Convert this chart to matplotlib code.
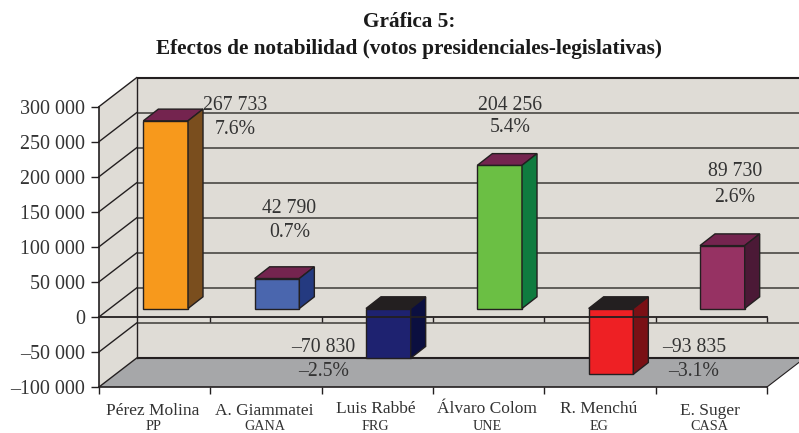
import matplotlib
matplotlib.use('Agg')
import matplotlib.pyplot as plt
from matplotlib.patches import Polygon

plt.rcParams['font.family'] = ['Liberation Serif', 'DejaVu Serif']

# Data
names = ['Pérez Molina', 'A. Giammatei', 'Luis Rabbé', 'Álvaro Colom', 'R. Menchú', 'E. Suger']
parties = ['PP', 'GANA', 'FRG', 'UNE', 'EG', 'CASA']
votes = [267733, 42790, -70830, 204256, -93835, 89730]
shares = ['7.6%', '0.7%', '–2.5%', '5.4%', '–3.1%', '2.6%']
y_ticks = [-100000, -50000, 0, 50000, 100000, 150000, 200000, 250000, 300000]

front_colors = ['#F7991C', '#4A66AE', '#1E2270', '#6BBF44', '#EE2024', '#963263']
side_colors = ['#7A4E1E', '#243A80', '#0B0F40', '#0F7B3F', '#7A1015', '#4B1936']
top_colors = ['#74244F', '#74244F', '#231F20', '#74244F', '#231F20', '#74244F']

W, H = 799, 433
LEFT, RIGHT, TOP, BOTTOM = 99, 767, 106.6, 387
px_x = (RIGHT - LEFT) / 6
px_y = (BOTTOM - TOP) / 400000

INK = '#231F20'
TEXT = '#333333'


def fmt(v):
    s = f'{abs(v):,}'.replace(',', ' ')
    return '–' + s if v < 0 else s


# pixel offsets converted to data units, for the fake depth
def dx(p):
    return p / px_x


def dy(p):
    return p / px_y


def fpos(x, y):
    return x / W, 1 - y / H


fig = plt.figure(figsize=(W / 100, H / 100), dpi=100)
ax = fig.add_axes([LEFT / W, 1 - BOTTOM / H, (RIGHT - LEFT) / W, (BOTTOM - TOP) / H])
ax.set_xlim(-0.5, 5.5)
ax.set_ylim(-100000, 300000)
ax.patch.set_visible(False)

x0, x1 = -0.5, 5.5
y0, y1 = -100000, 300000
bx, by = dx(37.7), dy(29)

# walls and floor
wall = '#DFDCD6'
ax.add_patch(Polygon([(x0, y0), (x0 + bx, y0 + by), (x1 + bx, y0 + by), (x1 + bx, y1 + by), (x0 + bx, y1 + by), (x0, y1)],
                     facecolor=wall, edgecolor='none', clip_on=False, zorder=1))
ax.add_patch(Polygon([(x0, y0), (x1, y0), (x1 + bx, y0 + by), (x0 + bx, y0 + by)],
                     facecolor='#A6A7A9', edgecolor='none', clip_on=False, zorder=1.5))

# grid on back wall and side wall
for t in y_ticks:
    color = INK if t in (-100000, 300000) else '#4A4844'
    lw = 1.5 if t in (-100000, 300000) else 1.2
    ax.plot([x0 + bx, x1 + bx], [t + by, t + by], color=color, lw=lw, clip_on=False, zorder=2, solid_capstyle='butt')
    ax.plot([x0, x0 + bx], [t, t + by], color=INK, lw=1.0, clip_on=False, zorder=2)
ax.plot([x0 + bx, x0 + bx], [y0 + by, y1 + by], color=INK, lw=1.0, clip_on=False, zorder=2)
ax.plot([x1, x1 + bx], [y0, y0 + by], color=INK, lw=0.8, clip_on=False, zorder=2)

# bars: front face through ax.bar, top and side added from the same values
bar_w = 44.7 / px_x
ox, oy = dx(11), dy(8.4)
sx, sy = dx(15), dy(11.7)
for i, v in enumerate(votes):
    ax.bar(i + ox, v, width=bar_w, bottom=oy, color=front_colors[i], edgecolor=INK, linewidth=1.0,
           clip_on=False, zorder=3)
    l = i + ox - bar_w / 2
    r = i + ox + bar_w / 2
    hi = max(v, 0) + oy
    lo = min(v, 0) + oy
    ax.add_patch(Polygon([(l, hi), (r, hi), (r + sx, hi + sy), (l + sx, hi + sy)],
                         facecolor=top_colors[i], edgecolor=INK, linewidth=1.0, clip_on=False, zorder=3))
    ax.add_patch(Polygon([(r, lo), (r + sx, lo + sy), (r + sx, hi + sy), (r, hi)],
                         facecolor=side_colors[i], edgecolor=INK, linewidth=1.0, clip_on=False, zorder=3))

# zero line with its ticks, above the bars
ax.plot([x0, x1], [0, 0], color=INK, lw=1.3, clip_on=False, zorder=4)
ax.vlines([b - 0.5 for b in range(1, 7)], dy(-5), 0, color=INK, lw=1.0, clip_on=False, zorder=4)

# axes
for s in ('top', 'right'):
    ax.spines[s].set_visible(False)
for s in ('left', 'bottom'):
    ax.spines[s].set_color(INK)
    ax.spines[s].set_linewidth(1.2)
    ax.spines[s].set_zorder(4)
ax.set_yticks(y_ticks, [fmt(t) for t in y_ticks])
ax.tick_params(axis='y', length=6, width=1.0, color=INK, labelsize=14.4, labelcolor=TEXT, pad=4)
ax.set_xticks([b - 0.5 for b in range(0, 7)], [''] * 7)
ax.tick_params(axis='x', length=5, width=1.0, color=INK)

# category labels
name_y = [411, 411, 409, 409, 409, 411]
for i, (n, p) in enumerate(zip(names, parties)):
    cx = LEFT + (i + 0.5) * px_x - 1.5
    fig.text(*fpos(cx, name_y[i]), n, ha='center', va='center', fontsize=12.5, color=TEXT)
    fig.text(*fpos(cx, 427), p, ha='center', va='center', fontsize=10.2, color=TEXT)

# value labels next to the bars
label_x = [235, 289.5, 323.5, 510, 694, 735]
value_y = [106, 209, 347, 105, 347, 172]
share_y = [129, 233, 371, 128, 371, 197]
for i, v in enumerate(votes):
    fig.text(*fpos(label_x[i], value_y[i]), fmt(v), ha='center', va='center', fontsize=14.2, color=TEXT, zorder=6)
    fig.text(*fpos(label_x[i], share_y[i]), shares[i], ha='center', va='center', fontsize=14.2, color=TEXT, zorder=6)

# title
fig.text(*fpos(409, 22), 'Gráfica 5:', ha='center', va='center', fontsize=15.3, fontweight='bold', color='#1A1A1A')
fig.text(*fpos(409, 49), 'Efectos de notabilidad (votos presidenciales-legislativas)', ha='center', va='center',
         fontsize=15.3, fontweight='bold', color='#1A1A1A')

fig.savefig('out.png', dpi=100)
